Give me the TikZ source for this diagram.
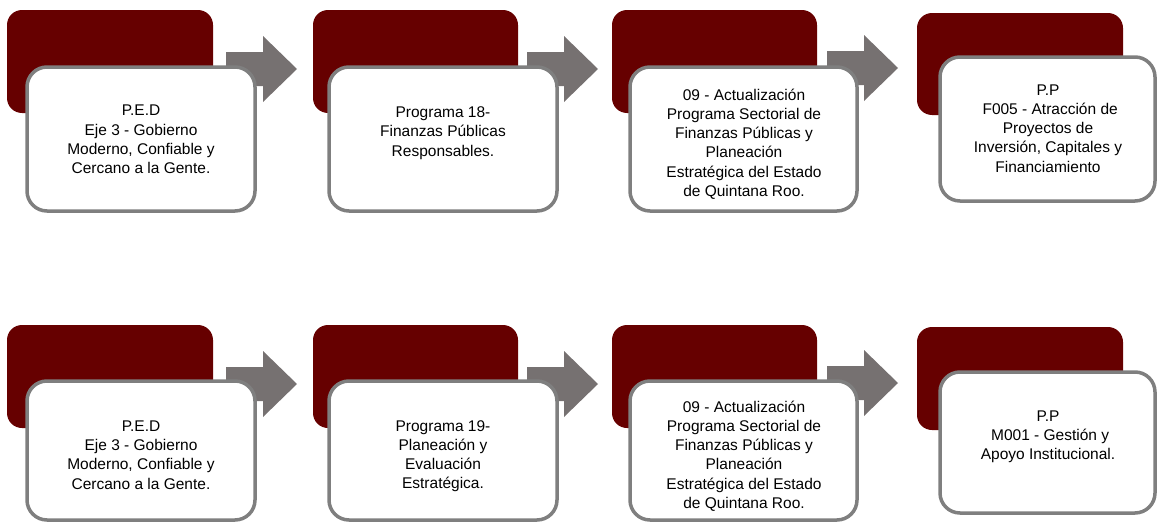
\documentclass[tikz,border=0pt]{standalone}
\usepackage{fontspec}
\setmainfont{Liberation Sans}
\definecolor{darkred}{HTML}{660000}
\definecolor{arrowgray}{HTML}{767171}
\definecolor{bordergray}{HTML}{7F7F7F}
\tikzset{
  backbox/.style={fill=darkred, draw=none, rounded corners=15pt, inner sep=0pt},
  frontbox/.style={fill=white, draw=bordergray, line width=3.5pt, rounded corners=20pt, inner sep=0pt},
  boxtext/.style={align=center, inner sep=0pt, font=\fontsize{15.5}{19.2}\selectfont, text=black},
  blockarrow/.style={fill=arrowgray, draw=none}
}
\newcommand{\backat}[5]{% name, x1,y1,x2,y2
  \path (#2,#3) -- (#4,#5) node[midway, backbox, minimum width={(#4-#2)*1pt}, minimum height={(#5-#3)*1pt}] (#1) {};}
\newcommand{\frontat}[5]{%
  \path (#2,#3) -- (#4,#5) node[midway, frontbox, minimum width={(#4-#2)*1pt}, minimum height={(#5-#3)*1pt}] (#1) {};}
\newcommand{\blockarr}[1]{% coordinate name at left/center of the arrow
  \fill[blockarrow] (#1) ++(0,-17) -- ++(37,0) -- ++(0,-16) -- ++(34,33) -- ++(-34,33) -- ++(0,-16) -- ++(-37,0) -- cycle;}
\begin{document}
\begin{tikzpicture}[x=1pt,y=-1pt]
\useasboundingbox (0,0) rectangle (1157,522);
% ---------- top row ----------
\backat{r1}{7}{10}{213}{113}
\backat{r2}{313}{10}{518}{113}
\backat{r3}{612}{10}{817}{113}
\backat{r4}{917}{13}{1123}{115}
\coordinate (a1) at (226,69);
\coordinate (a2) at (527,69);
\coordinate (a3) at (827,68);
\blockarr{a1}
\blockarr{a2}
\blockarr{a3}
\frontat{w1}{27}{67}{255}{211}
\frontat{w2}{329}{67}{557}{211}
\frontat{w3}{630}{67}{857}{211}
\frontat{w4}{940}{57}{1155}{201}
\node[boxtext] (t1) at (141,139.5) {P.E.D\\Eje 3 - Gobierno\\Moderno, Confiable y\\Cercano a la Gente.};
\node[boxtext] (t2) at (443,133) {Programa 18-\\Finanzas Públicas\\Responsables.};
\node[boxtext] (t3) at (744,144) {09 - Actualización\\Programa Sectorial de\\Finanzas Públicas y\\Planeación\\Estratégica del Estado\\de Quintana Roo.};
\node[boxtext] (t4) at (1048,128.5) {P.P\\\ F005 - Atracción de\\Proyectos de\\Inversión, Capitales y\\Financiamiento};
% ---------- bottom row ----------
\backat{r5}{7}{325}{213}{428}
\backat{r6}{313}{325}{518}{428}
\backat{r7}{612}{325}{817}{428}
\backat{r8}{917}{327}{1123}{430}
\coordinate (a5) at (226,384);
\coordinate (a6) at (527,384);
\coordinate (a7) at (827,383);
\blockarr{a5}
\blockarr{a6}
\blockarr{a7}
\frontat{w5}{27}{381}{255}{520}
\frontat{w6}{329}{381}{557}{520}
\frontat{w7}{630}{381}{857}{520}
\frontat{w8}{940}{372}{1155}{513}
\node[boxtext] (t5) at (141,455) {P.E.D\\Eje 3 - Gobierno\\Moderno, Confiable y\\Cercano a la Gente.};
\node[boxtext] (t6) at (443,456) {Programa 19-\\Planeación y\\Evaluación\\Estratégica.};
\node[boxtext] (t7) at (744,456) {09 - Actualización\\Programa Sectorial de\\Finanzas Públicas y\\Planeación\\Estratégica del Estado\\de Quintana Roo.};
\node[boxtext] (t8) at (1048,437) {P.P\\\ M001 - Gestión y\\Apoyo Institucional.};
\end{tikzpicture}
\end{document}
